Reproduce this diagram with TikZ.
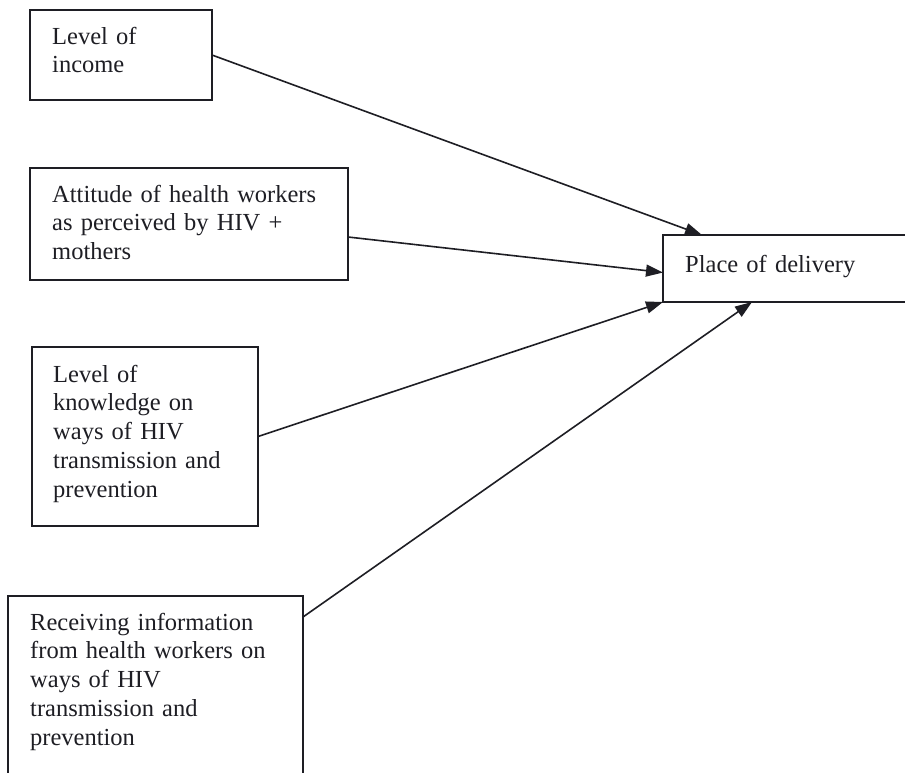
\documentclass[tikz,border=0pt]{standalone}
\usepackage{fontspec}
\setmainfont{Liberation Serif}
\usetikzlibrary{arrows.meta}
\definecolor{ink}{HTML}{1E1E24}
\begin{document}
\begin{tikzpicture}[x=1pt,y=-1pt,
  box/.style={draw=ink,line width=1.6pt,outer sep=0pt,inner sep=0pt,anchor=north west},
  lbl/.style={anchor=base west,inner sep=0pt,text=ink,text width=320pt,align=left,
    font=\fontsize{24.5}{28.8}\selectfont},
  arr/.style={draw=ink,line width=1.6pt,-{Triangle[length=17pt,width=12pt]}}]
\clip (0,0) rectangle (905,772);
\fill[white] (0,0) rectangle (905,772);
% boxes
\node[box,minimum width=182pt,minimum height=90pt] (inc) at (30,10) {};
\node[box,minimum width=318pt,minimum height=112pt] (att) at (30,168) {};
\node[box,minimum width=226pt,minimum height=179pt] (kno) at (32,347) {};
\node[box,minimum width=295pt,minimum height=200pt] (rec) at (8,596) {};
\node[box,minimum width=260pt,minimum height=67pt] (pla) at (663,235) {};
% texts
\node[lbl] (tinc) at (52,44) {Level of\\income};
\node[lbl] (tatt) at (52,202) {Attitude of health workers\\as perceived by HIV +\\mothers};
\node[lbl] (tkno) at (53,382) {Level of\\knowledge on\\ways of HIV\\transmission and\\prevention};
\node[lbl] (trec) at (30,630) {Receiving information\\from health workers on\\ways of HIV\\transmission and\\prevention};
\node[lbl] (tpla) at (685,272) {Place of delivery};
% connectors
\draw[arr] (inc.east) -- ([xshift=39pt]pla.north west);
\draw[arr] ([yshift=-13pt]att.east) -- ([yshift=-4pt]pla.west);
\draw[arr] (kno.east) -- (pla.south west);
\draw[arr] ([yshift=-21pt]rec.north east) -- ([xshift=89pt]pla.south west);
\end{tikzpicture}
\end{document}
